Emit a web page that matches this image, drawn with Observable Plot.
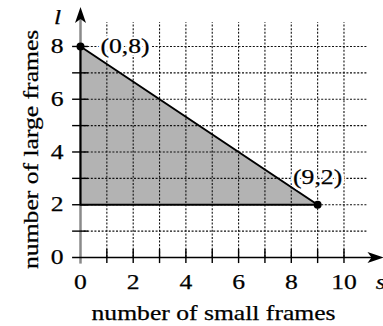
<!DOCTYPE html>
<html>
<head>
<meta charset="utf-8">
<script src="https://cdn.jsdelivr.net/npm/d3@7"></script>
<script src="https://cdn.jsdelivr.net/npm/@observablehq/plot@0.6"></script>
<style>
  html, body { margin: 0; padding: 0; background: white; }
</style>
</head>
<body>
<div id="chart"></div>
<script>
// ---- data ----
const vertexS = [0, 9];           // number of small frames at labelled vertices
const vertexL = [8, 2];           // number of large frames at labelled vertices
const vertexLabels = ["(0,8)", "(9,2)"];
const floorL = 2;                 // lower boundary l = 2
const xTickLabels = [0, 2, 4, 6, 8, 10];
const yTickLabels = [0, 2, 4, 6, 8];
const xMinorTicks = [1, 2, 3, 4, 5, 6, 7, 8, 9, 10];
const yMinorTicks = [1, 2, 3, 4, 5, 6, 7, 8];
const gridS = [1, 2, 3, 4, 5, 6, 7, 8, 9, 10];
const gridL = [1, 2, 3, 4, 5, 6, 7, 8];
const xAxisTitle = "number of small frames";
const yAxisTitle = "number of large frames";
const xVarName = "s";
const yVarName = "l";

// ---- derived tables ----
const vertices = vertexS.map((s, i) => ({s, l: vertexL[i], label: vertexLabels[i]}));
const boundary = [
  {s: vertexS[0], l: floorL},
  {s: vertexS[0], l: vertexL[0]},
  {s: vertexS[1], l: vertexL[1]},
  {s: vertexS[0], l: floorL}
];

// stealth-style arrowhead, tip at the anchor point, pointing up
const arrowHead = {
  draw(ctx) {
    ctx.moveTo(0, 0);
    ctx.lineTo(5.5, 16);
    ctx.lineTo(0, 12);
    ctx.lineTo(-5.5, 16);
    ctx.closePath();
  }
};

const serif = "Liberation Serif, Times New Roman, serif";
const fs = 21;
const ink = {fill: "black", stroke: "black", strokeWidth: 0.25};

const chart = Plot.plot({
  width: 383,
  height: 326,
  marginLeft: 80,
  marginRight: 0,
  marginTop: 6.4,
  marginBottom: 69,
  x: {domain: [0, 11.5], axis: null},
  y: {domain: [0, 9.5], axis: null},
  style: {fontFamily: serif, background: "white", overflow: "visible"},
  marks: [
    // feasible region
    Plot.areaY(vertices, {x: "s", y1: floorL, y2: "l", fill: "#b3b3b3"}),
    // dashed grid
    Plot.ruleY(gridL, {x1: 0, x2: 10.9, stroke: "#111", strokeWidth: 1.1, strokeDasharray: "2,1.6"}),
    Plot.ruleX(gridS, {y1: 0, y2: 8.9, stroke: "#111", strokeWidth: 1.1, strokeDasharray: "2,1.6"}),
    // axes shafts
    Plot.ruleX([0], {y1: -0.25, y2: 9.1, stroke: "#8a8a8a", strokeWidth: 2.5}),
    Plot.ruleY([0], {x1: -0.3, x2: 11.1, stroke: "black", strokeWidth: 1.5}),
    // tick marks crossing axes
    Plot.ruleY(yMinorTicks, {x1: -0.3, x2: 0.3, stroke: "black", strokeWidth: 1.4}),
    Plot.ruleX(xMinorTicks, {y1: -0.23, y2: 0.3, stroke: "black", strokeWidth: 1.4}),
    // region boundary
    Plot.line(boundary, {x: "s", y: "l", stroke: "black", strokeWidth: 2}),
    // arrowheads
    Plot.dot([0], {x: 0, y: 9.5, symbol: arrowHead, fill: "black", stroke: "none"}),
    Plot.dot([0], {x: 11.5, y: 0, symbol: arrowHead, rotate: 90, fill: "black", stroke: "none"}),
    // vertices
    Plot.dot(vertices, {x: "s", y: "l", r: 4, fill: "black"}),
    // vertex labels (white backing)
    Plot.text(vertices.slice(0, 1), {x: "s", y: "l", text: "label", textAnchor: "start", dx: 20, fontSize: fs, fill: "white", stroke: "white", strokeWidth: 5}),
    Plot.text(vertices.slice(1), {x: "s", y: "l", text: "label", dy: -27, fontSize: fs, fill: "white", stroke: "white", strokeWidth: 5}),
    Plot.text(vertices.slice(0, 1), {x: "s", y: "l", text: "label", textAnchor: "start", dx: 20, fontSize: fs, ...ink}),
    Plot.text(vertices.slice(1), {x: "s", y: "l", text: "label", dy: -27, fontSize: fs, ...ink}),
    // tick labels
    Plot.text(xTickLabels, {x: d => d, y: 0, text: d => String(d), dy: 25, fontSize: fs, ...ink}),
    Plot.text(yTickLabels, {x: 0, y: d => d, text: d => String(d), textAnchor: "end", dx: -17, fontSize: fs, ...ink}),
    // variable names
    Plot.text([xVarName], {x: 11.4, y: 0, text: d => d, dy: 25, fontSize: fs, fontStyle: "italic", ...ink}),
    Plot.text([yVarName], {x: 0, y: 9.1, text: d => d, dx: -23, fontSize: fs, fontStyle: "italic", ...ink}),
    // axis titles
    Plot.text([xAxisTitle], {x: 5.05, y: 0, text: d => d, dy: 56, fontSize: fs, ...ink}),
    Plot.text([yAxisTitle], {x: 0, y: 4.1, text: d => d, dx: -49, rotate: -90, fontSize: fs, ...ink})
  ]
});

document.getElementById("chart").appendChild(chart);

// the reference typeface is set wide: stretch glyphs along the baseline
chart.querySelectorAll("text").forEach(t => {
  const w = t.getComputedTextLength();
  if (w > 0) {
    t.setAttribute("textLength", (w * 1.22).toFixed(1));
    t.setAttribute("lengthAdjust", "spacingAndGlyphs");
  }
});
</script>
</body>
</html>
